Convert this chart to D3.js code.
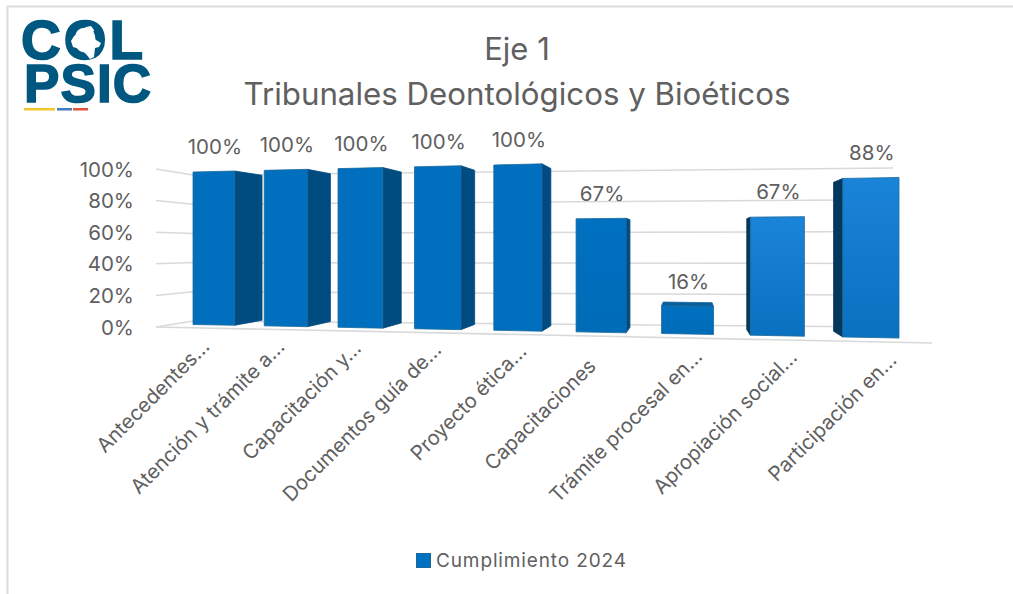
<!DOCTYPE html>
<html><head><meta charset="utf-8">
<script src="https://cdn.jsdelivr.net/npm/d3@7/dist/d3.min.js"></script>
<style>html,body{margin:0;padding:0;background:#fff}svg{display:block}</style>
</head><body><svg id="c" width="1013" height="594"></svg>
<script>
const categories = ["Antecedentes…","Atención y trámite a…","Capacitación y…","Documentos guía de…","Proyecto ética…","Capacitaciones","Trámite procesal en…","Apropiación social…","Participación en…"];
const values = [100,100,100,100,100,67,16,67,88];
const valueLabels = ["100%","100%","100%","100%","100%","67%","16%","67%","88%"];
const yTicks = [0,20,40,60,80,100];
const titleLines = ["Eje 1","Tribunales Deontológicos y Bioéticos"];
const seriesName = "Cumplimiento 2024";
const labelNudgeX = [-3,0,2,5,10,-4,16,21,27];
const labelNudgeY = [23,22,22,22,22,35,24,23,24];

const FONT = "Inter, sans-serif", GREY = "#606060";
const svg = d3.select("#c");
const defs = svg.append("defs");

// frame
svg.append("path").attr("d","M7.5 594V6.5H1013").attr("fill","none").attr("stroke","#dcdcdc").attr("stroke-width",2);

// projection of the bar plane
const band = d3.scaleBand().domain(categories).range([0,1]).paddingInner(0.41).paddingOuter(0);
const v01 = d3.scaleLinear().domain([0,100]).range([0,1]);
const K = 1.174, X0 = 193, X1 = 899;
const px = u => X0 + (X1-X0)*u/(u + K*(1-u));
const py = (x,val) => (324.5 + (x-193)*0.0192) - v01(val)*(152.5 + (x-193)*0.0425);
const VP = {x:690, y:242, d:0.06};
const back = p => [p[0] + (VP.x-p[0])*VP.d, p[1] + (VP.y-p[1])*VP.d];

// walls
const leftWall  = d3.scaleLinear().domain([0,100]).range([327,169]);
const backLeft  = d3.scaleLinear().domain([0,100]).range([321,175]);
const backRight = d3.scaleLinear().domain([0,100]).range([327,168]);
const GRID = "#d9d9d9";
const g = svg.append("g");
yTicks.forEach(t=>{
  g.append("path").attr("fill","none").attr("stroke",GRID).attr("stroke-width",1.5)
   .attr("d",d3.line()([[156,leftWall(t)],[193,backLeft(t)],[893,backRight(t)]]));
});
g.append("path").attr("stroke",GRID).attr("stroke-width",1.7).attr("fill","none")
 .attr("d",d3.line()([[156,leftWall(0)],[932,343]]));

// y axis labels
svg.append("g").selectAll("text").data(yTicks).join("text")
  .attr("x",134).attr("y",d=>leftWall(d)).attr("text-anchor","end").attr("dominant-baseline","central")
  .attr("font-family",FONT).attr("font-size",20.5).attr("fill",GREY).text(d=>d+"%");

// bars
const grad = defs.append("linearGradient").attr("id","fg").attr("x1",0).attr("x2",0).attr("y1",0).attr("y2",1);
grad.append("stop").attr("offset",0).attr("stop-color","#1a84d8");
grad.append("stop").attr("offset",1).attr("stop-color","#0a70c0");
const grad2 = defs.append("linearGradient").attr("id","fg2").attr("x1",0).attr("x2",0).attr("y1",0).attr("y2",1);
grad2.append("stop").attr("offset",0).attr("stop-color","#0070c0");
grad2.append("stop").attr("offset",1).attr("stop-color","#006cb8");

const bars = svg.append("g");
categories.forEach((c,i)=>{
  const xl = px(band(c)), xr = px(band(c)+band.bandwidth());
  const tl=[xl,py(xl,values[i])], tr=[xr,py(xr,values[i])], br=[xr,py(xr,0)], bl=[xl,py(xl,0)];
  const G = bars.append("g").attr("stroke-linejoin","round");
  const poly = (pts,fill)=>G.append("polygon").attr("points",pts.map(p=>p.join(",")).join(" ")).attr("fill",fill).attr("stroke",fill).attr("stroke-width",0.8);
  if (xr < VP.x) poly([tr,back(tr),back(br),br],"#004b80");
  if (xl > VP.x) poly([tl,back(tl),back(bl),bl],"#04375c");
  if (tl[1] > VP.y) poly([tl,back(tl),back(tr),tr],"#0b5f9c");
  G.append("polygon").attr("points",[tl,tr,br,bl].map(p=>p.join(",")).join(" "))
    .attr("fill",i>=7?"url(#fg)":i>=5?"url(#fg2)":"#006fbe").attr("stroke","#1c6a9c").attr("stroke-width",0.8);
  const cx=(xl+xr)/2, topY=py(cx,values[i]);
  svg.append("text").attr("x",cx+1).attr("y",topY-25).attr("text-anchor","middle").attr("dominant-baseline","central")
    .attr("font-family",FONT).attr("font-size",20.5).attr("fill",GREY).text(valueLabels[i]);
  svg.append("text").attr("transform",`translate(${cx+labelNudgeX[i]},${py(cx,0)+labelNudgeY[i]}) rotate(-45)`).attr("text-anchor","end")
    .attr("font-family",FONT).attr("font-size",20.2).attr("fill",GREY).text(c);
});

// title
svg.append("text").attr("x",517).attr("y",60).attr("text-anchor","middle").attr("font-family",FONT).attr("font-size",31).attr("fill",GREY).text(titleLines[0]);
svg.append("text").attr("x",517).attr("y",105).attr("text-anchor","middle").attr("font-family",FONT).attr("font-size",31).attr("textLength",547).attr("lengthAdjust","spacingAndGlyphs").attr("fill",GREY).text(titleLines[1]);

// legend
svg.append("rect").attr("x",416.5).attr("y",553.5).attr("width",14).attr("height",14).attr("fill","#0070c0").attr("stroke","#1c6a9c");
svg.append("text").attr("x",436).attr("y",567).attr("font-family",FONT).attr("font-size",19).attr("textLength",190).attr("fill",GREY).text(seriesName);

// logo
const LOGO="#00577f", lg=svg.append("g").attr("font-family","'Liberation Sans',sans-serif").attr("font-weight",700).attr("fill",LOGO).attr("stroke",LOGO).attr("stroke-width",1.6);
lg.append("text").attr("x",21).attr("y",59).attr("font-size",55).attr("textLength",122).attr("lengthAdjust","spacing").text("COL");
lg.append("text").attr("x",24).attr("y",102).attr("font-size",53).attr("textLength",127).attr("lengthAdjust","spacing").text("PSIC");
svg.append("path").attr("fill","#fff").attr("d","M86 27l5-1 3 4-2 6 4 4 5 3-2 4-4 1-1 9-4 2-4-5-6-5-7-2-2-6 3-5 7-3z");
[[24,55,"#f2c72e"],[57,72,"#3f7fbf"],[73,88,"#e0533d"]].forEach(s=>svg.append("rect").attr("x",s[0]).attr("y",108).attr("width",s[1]-s[0]).attr("height",2.5).attr("fill",s[2]));
</script></body></html>
